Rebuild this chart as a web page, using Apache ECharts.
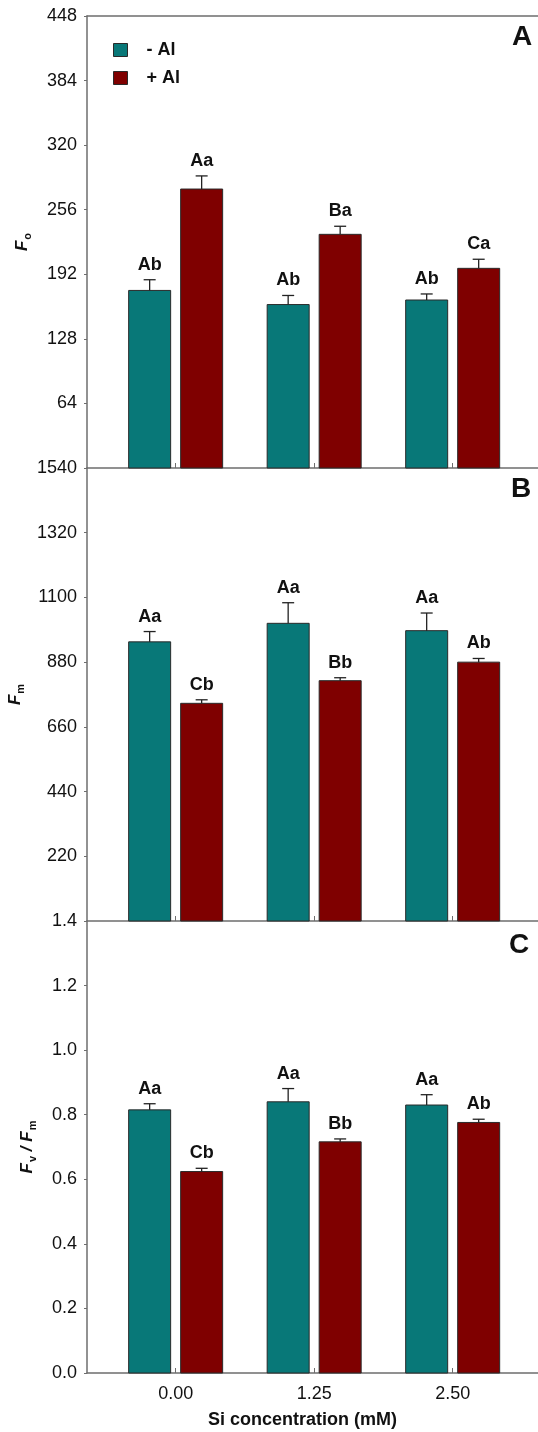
<!DOCTYPE html>
<html>
<head>
<meta charset="utf-8">
<script src="https://cdn.jsdelivr.net/npm/echarts@6/dist/echarts.min.js"></script>
<style>
  html, body { margin: 0; padding: 0; background: #fff; }
  #chart { width: 538px; height: 1432px; }
</style>
</head>
<body>
<div id="chart"></div>
<script>
// Si concentrations (mM) and x tick labels
var siConc = [0, 1.25, 2.5];
var siLabels = ['0.00', '1.25', '2.50'];
var seriesNames = ['- Al', '+ Al'];

// panel A: Fo
var foMinusAl = [176, 162, 166.5];
var foMinusAlErr = [10.6, 9, 6];
var foPlusAl = [276.5, 231.6, 197.9];
var foPlusAlErr = [13, 8, 9];
var foMinusLetters = ['Ab', 'Ab', 'Ab'];
var foPlusLetters = ['Aa', 'Ba', 'Ca'];

// panel B: Fm
var fmMinusAl = [949, 1012, 987];
var fmMinusAlErr = [35, 70, 60];
var fmPlusAl = [740, 817, 880];
var fmPlusAlErr = [12, 10, 12.5];
var fmMinusLetters = ['Aa', 'Aa', 'Aa'];
var fmPlusLetters = ['Cb', 'Bb', 'Ab'];

// panel C: Fv/Fm
var fvfmMinusAl = [0.815, 0.840, 0.830];
var fvfmMinusAlErr = [0.019, 0.041, 0.032];
var fvfmPlusAl = [0.624, 0.716, 0.776];
var fvfmPlusAlErr = [0.010, 0.009, 0.010];
var fvfmMinusLetters = ['Aa', 'Aa', 'Aa'];
var fvfmPlusLetters = ['Cb', 'Bb', 'Ab'];

var FONT = 'Liberation Sans, Arial, sans-serif';
var AXIS_COLOR = '#6e6e6e';
var TEXT_COLOR = '#111';
var TEAL = '#087878';
var MAROON = '#7f0000';
var BAR_W = 42;
var SHIFT = 26;

var chart = echarts.init(document.getElementById('chart'));

function barRenderer(errs, letters, shift) {
    return function (params, api) {
        var i = params.dataIndex;
        var x = api.value(0), v = api.value(1);
        var top = api.coord([x, v]);
        var bot = api.coord([x, 0]);
        var et = api.coord([x, v + errs[i]]);
        var cx = top[0] + shift;
        var lineStyle = { stroke: '#222', lineWidth: 1.3 };
        return {
            type: 'group',
            children: [
                { type: 'rect', shape: { x: cx - BAR_W / 2, y: top[1], width: BAR_W, height: bot[1] - top[1] },
                  style: { fill: api.visual('color'), stroke: '#2a2a2a', lineWidth: 1 } },
                { type: 'line', shape: { x1: cx, y1: top[1], x2: cx, y2: et[1] }, style: lineStyle },
                { type: 'line', shape: { x1: cx - 6, y1: et[1], x2: cx + 6, y2: et[1] }, style: lineStyle },
                { type: 'text', style: { text: letters[i], x: cx, y: et[1] - 6, align: 'center', verticalAlign: 'bottom',
                  font: 'bold 18px ' + FONT, fill: TEXT_COLOR } }
            ]
        };
    };
}

function makeSeries(name, idx, vals, errs, letters, color, shift) {
    return {
        name: name,
        type: 'custom',
        xAxisIndex: idx,
        yAxisIndex: idx,
        itemStyle: { color: color },
        encode: { x: 0, y: 1 },
        data: siConc.map(function (x, i) { return [x, vals[i]]; }),
        renderItem: barRenderer(errs, letters, shift)
    };
}

var grids = [
    { left: 87, right: 0, top: 16, height: 452, outerBoundsMode: 'none', containLabel: false },
    { left: 87, right: 0, top: 468, height: 453, outerBoundsMode: 'none', containLabel: false },
    { left: 87, right: 0, top: 921, height: 452, outerBoundsMode: 'none', containLabel: false }
];

function xAxisFor(idx, showLabels) {
    return {
        type: 'value',
        gridIndex: idx,
        min: -0.8,
        max: 3.27,
        splitLine: { show: false },
        axisLine: { onZero: false, lineStyle: { color: AXIS_COLOR, width: 1.5 } },
        axisTick: { show: true, inside: true, length: 5, customValues: siConc, lineStyle: { color: AXIS_COLOR } },
        axisLabel: {
            show: showLabels, customValues: siConc, margin: 12,
            fontSize: 18, fontFamily: FONT, color: TEXT_COLOR,
            formatter: function (v) { return siLabels[siConc.indexOf(v)]; }
        },
        name: showLabels ? 'Si concentration (mM)' : '',
        nameLocation: 'middle',
        nameGap: 38,
        nameTextStyle: { fontSize: 18, fontWeight: 'bold', fontFamily: FONT, color: TEXT_COLOR, padding: [0, 20, 0, 0] }
    };
}

var nameRich = {
    f: { fontSize: 17, fontWeight: 'bold', fontStyle: 'italic', fontFamily: FONT, color: TEXT_COLOR },
    s: { fontSize: 11, fontWeight: 'bold', fontFamily: FONT, color: TEXT_COLOR, verticalAlign: 'bottom', padding: [0, 0, -2, 1] }
};

function yAxisFor(idx, max, interval, name, gap, fmt, showMin) {
    return {
        type: 'value',
        gridIndex: idx,
        min: 0,
        max: max,
        interval: interval,
        splitLine: { show: false },
        axisLine: { show: true, onZero: false, lineStyle: { color: AXIS_COLOR, width: 1.5 } },
        axisTick: { show: true, length: 3, lineStyle: { color: AXIS_COLOR } },
        axisLabel: { showMinLabel: showMin, margin: 10, fontSize: 18, fontFamily: FONT, color: TEXT_COLOR, formatter: fmt },
        name: name,
        nameLocation: 'middle',
        nameRotate: 90,
        nameGap: gap,
        nameTextStyle: { rich: nameRich }
    };
}

var topAxis = {
    type: 'value', gridIndex: 0, position: 'top', min: -0.8, max: 3.27,
    axisLine: { show: true, onZero: false, lineStyle: { color: AXIS_COLOR, width: 1.5 } },
    axisTick: { show: false }, axisLabel: { show: false }, splitLine: { show: false }
};

var plainFmt = function (v) { return String(v); };

var option = {
    animation: false,
    backgroundColor: '#fff',
    grid: grids,
    legend: {
        data: seriesNames,
        orient: 'vertical',
        left: 108,
        top: 36,
        itemWidth: 14,
        itemHeight: 13,
        itemGap: 10,
        icon: 'rect',
        itemStyle: { borderColor: '#2a2a2a', borderWidth: 1 },
        textStyle: { fontSize: 18, fontWeight: 'bold', fontFamily: FONT, color: TEXT_COLOR, padding: [0, 0, 0, 14] }
    },
    xAxis: [xAxisFor(0, false), xAxisFor(1, false), xAxisFor(2, true), topAxis],
    yAxis: [
        yAxisFor(0, 448, 64, '{f|F}{s|o}', 56, plainFmt, false),
        yAxisFor(1, 1540, 220, '{f|F}{s|m}', 56, plainFmt, false),
        yAxisFor(2, 1.4, 0.2, '{f|F}{s|v}{f| / }{f|F}{s|m}', 51, function (v) { return v.toFixed(1); }, true)
    ],
    graphic: [
        { type: 'text', x: 522, y: 37, style: { text: 'A', align: 'center', verticalAlign: 'middle', font: 'bold 28px ' + FONT, fill: TEXT_COLOR } },
        { type: 'text', x: 521, y: 489, style: { text: 'B', align: 'center', verticalAlign: 'middle', font: 'bold 28px ' + FONT, fill: TEXT_COLOR } },
        { type: 'text', x: 519, y: 945, style: { text: 'C', align: 'center', verticalAlign: 'middle', font: 'bold 28px ' + FONT, fill: TEXT_COLOR } }
    ],
    series: [
        makeSeries(seriesNames[0], 0, foMinusAl, foMinusAlErr, foMinusLetters, TEAL, -SHIFT),
        makeSeries(seriesNames[1], 0, foPlusAl, foPlusAlErr, foPlusLetters, MAROON, SHIFT),
        makeSeries(seriesNames[0], 1, fmMinusAl, fmMinusAlErr, fmMinusLetters, TEAL, -SHIFT),
        makeSeries(seriesNames[1], 1, fmPlusAl, fmPlusAlErr, fmPlusLetters, MAROON, SHIFT),
        makeSeries(seriesNames[0], 2, fvfmMinusAl, fvfmMinusAlErr, fvfmMinusLetters, TEAL, -SHIFT),
        makeSeries(seriesNames[1], 2, fvfmPlusAl, fvfmPlusAlErr, fvfmPlusLetters, MAROON, SHIFT)
    ]
};

chart.setOption(option);
</script>
</body>
</html>
